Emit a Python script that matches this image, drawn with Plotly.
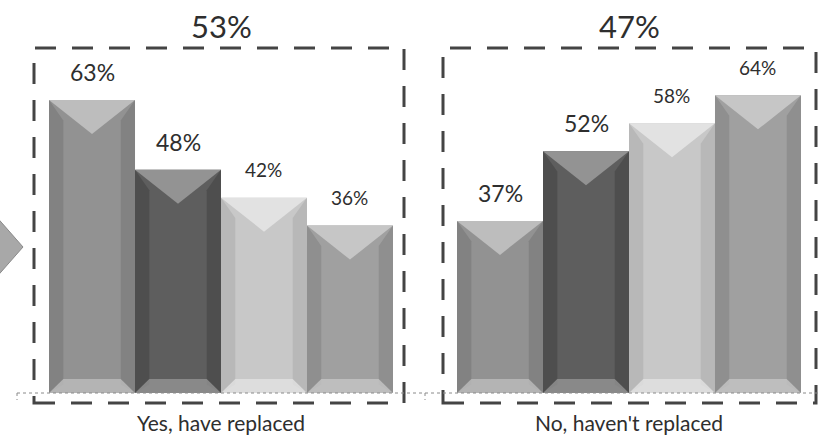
import plotly.graph_objects as go

# ---- data -------------------------------------------------------------
categories = ["Yes, have replaced", "No, haven't replaced"]
group_share = [53, 47]                      # share of respondents per group (%)
series_names = ["Segment A", "Segment B", "Segment C", "Segment D"]
series_values = [
    [63, 37],
    [48, 52],
    [42, 58],
    [36, 64],
]

# ---- styling ----------------------------------------------------------
W, H = 820, 439
M_L, M_R, M_T, M_B = 0, 0, 0, 46
PLOT_W, PLOT_H = W - M_L - M_R, H - M_T - M_B
Y_MAX = 84.5
CAT_PX = 408.0                 # pixel width of one category slot
FIRST_CENTER_PX = 221.0
BAR_GAP = 0.157
N_SER = len(series_values)
BAR_W = (1 - BAR_GAP) / N_SER

FONT = "Lato, Open Sans, sans-serif"
TXT = "#2e2e2e"
base_colors = ["#929292", "#5e5e5e", "#c8c8c8", "#a0a0a0"]
light_colors = ["#bdbdbd", "#939393", "#e2e2e2", "#c6c6c6"]
dark_colors = ["#828282", "#4e4e4e", "#b8b8b8", "#8f8f8f"]
label_sizes = [23, 23, 19, 19]

x_lo = -FIRST_CENTER_PX / CAT_PX
x_hi = x_lo + PLOT_W / CAT_PX
PX_PER_UNIT_Y = PLOT_H / Y_MAX


def px_x(p):
    return (p - M_L) / PLOT_W


def px_y(p):
    return 1 - (p - M_T) / PLOT_H


fig = go.Figure()
shapes = []
annotations = []

for k, (name, vals) in enumerate(zip(series_names, series_values)):
    fig.add_trace(go.Bar(
        x=list(range(len(categories))), y=vals, name=name,
        marker=dict(color=base_colors[k], line=dict(width=0)),
        hoverinfo="skip",
    ))
    offset = (k - (N_SER - 1) / 2) * BAR_W
    for ci, v in enumerate(vals):
        xc = ci + offset
        x0, x1 = xc - BAR_W / 2, xc + BAR_W / 2
        top_depth = 34 / PX_PER_UNIT_Y
        bot_depth = 14 / PX_PER_UNIT_Y
        edge = 0.035
        # darker side bevels
        shapes.append(dict(type="path", xref="x", yref="y", layer="above",
                           path=f"M{x0},0 L{x0},{v} L{x0+edge},{v-top_depth*0.6} "
                                f"L{x0+edge},{bot_depth*0.6} Z",
                           fillcolor=dark_colors[k], line=dict(width=0)))
        shapes.append(dict(type="path", xref="x", yref="y", layer="above",
                           path=f"M{x1},0 L{x1},{v} L{x1-edge},{v-top_depth*0.6} "
                                f"L{x1-edge},{bot_depth*0.6} Z",
                           fillcolor=dark_colors[k], line=dict(width=0)))
        # lighter top bevel
        shapes.append(dict(type="path", xref="x", yref="y", layer="above",
                           path=f"M{x0},{v} L{x1},{v} L{xc},{v-top_depth} Z",
                           fillcolor=light_colors[k], line=dict(width=0)))
        # lighter bottom bevel
        shapes.append(dict(type="path", xref="x", yref="y", layer="above",
                           path=f"M{x0},0 L{x1},0 L{x1-edge},{bot_depth} "
                                f"L{x0+edge},{bot_depth} Z",
                           fillcolor=light_colors[k], line=dict(width=0),
                           opacity=0.8))
        annotations.append(dict(
            x=xc, y=v, xref="x", yref="y", text=f"{v}%", showarrow=False,
            yanchor="middle", yshift=28,
            font=dict(family=FONT, size=label_sizes[k], color=TXT)))

# dashed frames around each group
for left, right in [(34, 404), (443, 816)]:
    shapes.append(dict(type="rect", xref="paper", yref="paper",
                       x0=px_x(left), x1=px_x(right), y0=px_y(403), y1=px_y(48),
                       line=dict(color="#444444", width=3, dash="21px,16px"),
                       layer="above"))

# group share labels above the frames
for ci, share in enumerate(group_share):
    annotations.append(dict(
        x=ci, y=px_y(26), xref="x", yref="paper", text=f"{share}%",
        showarrow=False, yanchor="middle",
        font=dict(family=FONT, size=31, color=TXT)))

# dotted category axis with boundary ticks
shapes.append(dict(type="line", xref="paper", yref="paper",
                   x0=px_x(17), x1=1, y0=0, y1=0,
                   line=dict(color="#8a8a8a", width=1, dash="dot")))
for b in [-0.5, 0.5]:
    shapes.append(dict(type="line", xref="x", yref="paper",
                       x0=b, x1=b, y0=0, y1=px_y(400),
                       line=dict(color="#8a8a8a", width=1, dash="dot")))

# pointer arrow on the left edge
shapes.append(dict(type="path", xref="paper", yref="paper",
                   path=f"M{px_x(-6)},{px_y(214)} L{px_x(23)},{px_y(247)} "
                        f"L{px_x(-6)},{px_y(280)} Z",
                   fillcolor="#a8a8a8", line=dict(color="#8a8a8a", width=1)))

fig.update_layout(
    width=W, height=H,
    margin=dict(l=M_L, r=M_R, t=M_T, b=M_B),
    paper_bgcolor="white", plot_bgcolor="white",
    barmode="group", bargap=BAR_GAP, bargroupgap=0,
    showlegend=False,
    xaxis=dict(range=[x_lo, x_hi], tickvals=list(range(len(categories))),
               ticktext=categories, showgrid=False, zeroline=False,
               showline=False, ticks="", ticklabelstandoff=16,
               tickfont=dict(family=FONT, size=21, color=TXT)),
    yaxis=dict(range=[0, Y_MAX], visible=False),
    shapes=shapes, annotations=annotations,
)

fig.write_html("out.html")
